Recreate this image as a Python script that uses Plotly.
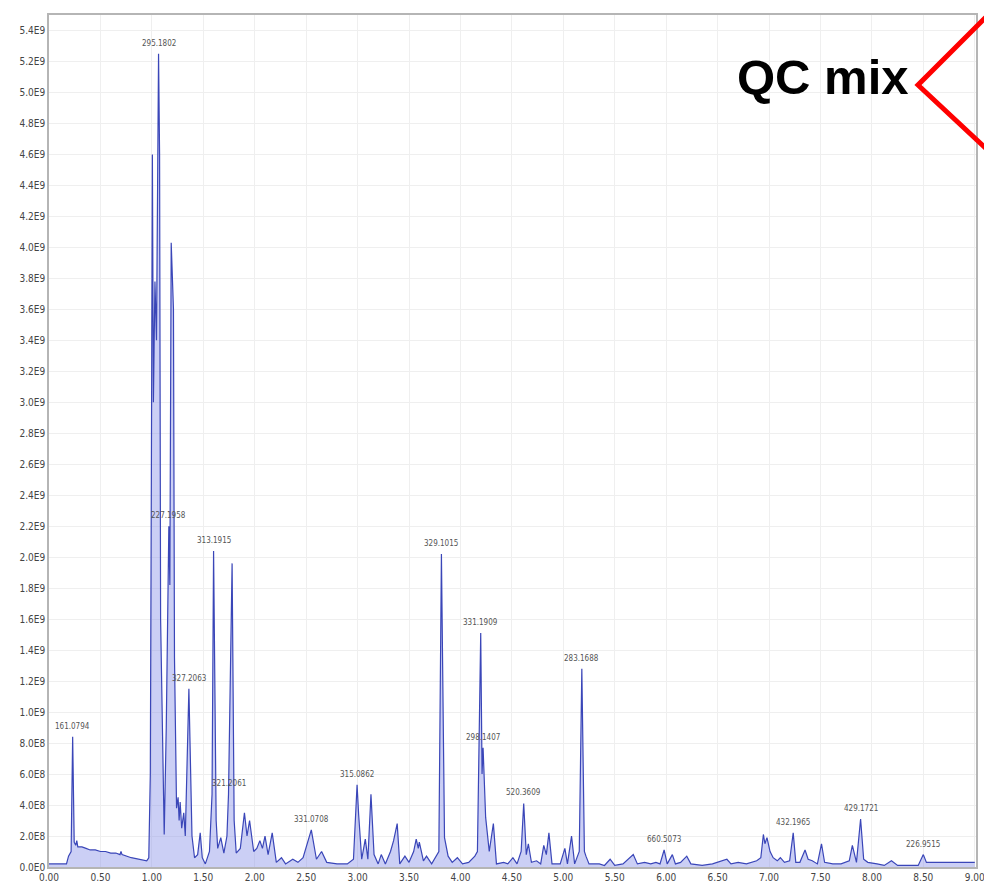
import plotly.graph_objects as go

# Retention time (min) and intensity (units of 1e9 counts)
rt = [0.00, 0.10, 0.17, 0.19, 0.215, 0.23, 0.245, 0.26, 0.27, 0.28, 0.32, 0.36, 0.40, 0.45, 0.50, 0.55,
      0.60, 0.65, 0.69, 0.70, 0.71, 0.80, 0.88, 0.95, 0.97, 0.985, 0.995, 1.005, 1.015, 1.03, 1.045,
      1.055, 1.065, 1.075, 1.085, 1.12, 1.14, 1.165, 1.175, 1.188, 1.20, 1.21, 1.22, 1.24, 1.255,
      1.265, 1.275, 1.29, 1.31, 1.325, 1.36, 1.39, 1.415, 1.445, 1.47, 1.49, 1.52, 1.56, 1.585,
      1.60, 1.625, 1.64, 1.67, 1.70, 1.73, 1.745, 1.78, 1.80, 1.82, 1.86, 1.90, 1.925, 1.95, 1.99,
      2.02, 2.05, 2.075, 2.10, 2.13, 2.17, 2.21, 2.26, 2.30, 2.37, 2.42, 2.47, 2.55, 2.60, 2.65,
      2.70, 2.80, 2.90, 2.96, 2.995, 3.01, 3.04, 3.075, 3.10, 3.13, 3.16, 3.20, 3.23, 3.27, 3.32,
      3.35, 3.385, 3.41, 3.46, 3.50, 3.545, 3.57, 3.59, 3.60, 3.64, 3.67, 3.72, 3.79, 3.815, 3.845,
      3.88, 3.92, 3.97, 4.02, 4.08, 4.14, 4.165, 4.197, 4.21, 4.22, 4.235, 4.245, 4.28, 4.32, 4.35,
      4.42, 4.46, 4.51, 4.55, 4.59, 4.615, 4.64, 4.66, 4.69, 4.74, 4.78, 4.81, 4.835, 4.86, 4.89,
      4.97, 5.015, 5.04, 5.08, 5.11, 5.155, 5.18, 5.205, 5.22, 5.25, 5.35, 5.40, 5.455, 5.50, 5.58,
      5.68, 5.72, 5.79, 5.85, 5.90, 5.94, 5.98, 6.01, 6.06, 6.09, 6.14, 6.20, 6.24, 6.35, 6.45,
      6.59, 6.63, 6.70, 6.78, 6.88, 6.92, 6.945, 6.96, 6.98, 7.01, 7.04, 7.08, 7.11, 7.15, 7.20,
      7.235, 7.26, 7.30, 7.35, 7.38, 7.42, 7.47, 7.51, 7.54, 7.62, 7.70, 7.78, 7.81, 7.85, 7.89,
      7.92, 7.96, 8.05, 8.12, 8.19, 8.25, 8.35, 8.45, 8.50, 8.53, 8.70, 9.00]
intensity_e9 = [0.02, 0.02, 0.02, 0.07, 0.10, 0.84, 0.16, 0.14, 0.17, 0.13, 0.13, 0.12, 0.11, 0.11, 0.10, 0.10,
                0.09, 0.09, 0.08, 0.10, 0.08, 0.06, 0.05, 0.04, 0.06, 0.60, 2.50, 4.60, 3.00, 3.78, 3.40,
                4.60, 5.25, 4.60, 1.60, 0.21, 0.90, 2.20, 1.82, 4.03, 3.80, 3.60, 1.35, 0.38, 0.45,
                0.30, 0.42, 0.25, 0.35, 0.20, 1.15, 0.20, 0.06, 0.08, 0.22, 0.06, 0.02, 0.10, 0.47,
                2.04, 0.30, 0.12, 0.19, 0.09, 0.20, 0.47, 1.96, 0.30, 0.09, 0.12, 0.35, 0.20, 0.30, 0.10,
                0.12, 0.17, 0.12, 0.20, 0.08, 0.22, 0.03, 0.06, 0.02, 0.05, 0.03, 0.06, 0.24, 0.05, 0.10,
                0.03, 0.02, 0.02, 0.05, 0.53, 0.34, 0.05, 0.18, 0.05, 0.47, 0.08, 0.02, 0.08, 0.02, 0.10,
                0.17, 0.28, 0.02, 0.07, 0.03, 0.10, 0.18, 0.12, 0.16, 0.04, 0.07, 0.02, 0.10, 2.02, 0.19,
                0.07, 0.03, 0.06, 0.02, 0.03, 0.07, 0.10, 1.51, 0.60, 0.77, 0.49, 0.32, 0.10, 0.28, 0.02,
                0.03, 0.02, 0.06, 0.02, 0.10, 0.41, 0.08, 0.15, 0.03, 0.04, 0.02, 0.14, 0.08, 0.22, 0.02,
                0.02, 0.12, 0.02, 0.20, 0.02, 0.10, 1.28, 0.10, 0.07, 0.02, 0.02, 0.01, 0.05, 0.01, 0.02,
                0.08, 0.02, 0.03, 0.02, 0.03, 0.02, 0.11, 0.02, 0.08, 0.02, 0.03, 0.07, 0.02, 0.01, 0.02,
                0.05, 0.02, 0.03, 0.02, 0.04, 0.06, 0.21, 0.15, 0.19, 0.10, 0.06, 0.04, 0.06, 0.03, 0.04,
                0.22, 0.03, 0.03, 0.11, 0.05, 0.04, 0.02, 0.15, 0.03, 0.02, 0.02, 0.04, 0.14, 0.03, 0.31,
                0.05, 0.03, 0.02, 0.01, 0.04, 0.01, 0.01, 0.01, 0.08, 0.03, 0.03, 0.03]

# Labelled peaks
peak_rt = [0.23, 1.065, 1.165, 1.36, 1.60, 1.745, 2.55, 2.995, 3.815, 4.197, 4.22, 4.615, 5.18,
           5.98, 7.235, 7.89, 8.50]
peak_int_e9 = [0.84, 5.25, 2.20, 1.15, 2.04, 0.47, 0.24, 0.53, 2.02, 1.51, 0.77, 0.41, 1.28,
               0.11, 0.22, 0.31, 0.08]
peak_mz = ["161.0794", "295.1802", "227.1958", "327.2063", "313.1915", "321.2061", "331.0708",
           "315.0862", "329.1015", "331.1909", "298.1407", "520.3609", "283.1688", "660.5073",
           "432.1965", "429.1721", "226.9515"]

# Axis ticks
y_tick_vals_e9 = [0.0, 0.2, 0.4, 0.6, 0.8, 1.0, 1.2, 1.4, 1.6, 1.8, 2.0, 2.2, 2.4, 2.6, 2.8, 3.0,
                  3.2, 3.4, 3.6, 3.8, 4.0, 4.2, 4.4, 4.6, 4.8, 5.0, 5.2, 5.4]
y_tick_text = ["0.0E0", "2.0E8", "4.0E8", "6.0E8", "8.0E8", "1.0E9", "1.2E9", "1.4E9", "1.6E9",
               "1.8E9", "2.0E9", "2.2E9", "2.4E9", "2.6E9", "2.8E9", "3.0E9", "3.2E9", "3.4E9",
               "3.6E9", "3.8E9", "4.0E9", "4.2E9", "4.4E9", "4.6E9", "4.8E9", "5.0E9", "5.2E9", "5.4E9"]
x_tick_vals = [0.0, 0.5, 1.0, 1.5, 2.0, 2.5, 3.0, 3.5, 4.0, 4.5, 5.0, 5.5, 6.0, 6.5, 7.0, 7.5, 8.0, 8.5, 9.0]
x_tick_text = ["0.00", "0.50", "1.00", "1.50", "2.00", "2.50", "3.00", "3.50", "4.00", "4.50",
               "5.00", "5.50", "6.00", "6.50", "7.00", "7.50", "8.00", "8.50", "9.00"]

title_text = "QC mix"

SCALE = 1e9
intensity = [v * SCALE for v in intensity_e9]
peak_int = [v * SCALE for v in peak_int_e9]
y_tick_vals = [v * SCALE for v in y_tick_vals_e9]

NARROW = "Liberation Sans Narrow, DejaVu Sans Condensed, Arial Narrow, sans-serif"

fig = go.Figure()
fig.add_trace(go.Scatter(
    x=rt, y=intensity, mode="lines",
    line=dict(color="#3a46b8", width=1.2),
    fill="tozeroy", fillcolor="rgba(140,148,232,0.45)",
    hoverinfo="x+y", showlegend=False,
))

for x, y, t in zip(peak_rt, peak_int, peak_mz):
    fig.add_annotation(x=x, y=y, text=t, showarrow=False, xanchor="center", yanchor="bottom",
                       yshift=4, font=dict(family=NARROW, size=8, color="#555555"))

W, H = 984, 896
ML, MR, MT, MB = 49, 8, 15, 29
pw, ph = W - ML - MR, H - MT - MB


def px(xp):
    return (xp - ML) / pw


def py(yp):
    return (H - MB - yp) / ph


fig.add_annotation(xref="paper", yref="paper", x=px(911), y=py(77), text="<b>" + title_text + "</b>",
                   showarrow=False, xanchor="right", yanchor="middle",
                   font=dict(family="Liberation Sans, Arial, sans-serif", size=49, color="black"))

fig.add_shape(type="path", xref="paper", yref="paper",
              path=f"M {px(994)} {py(9)} L {px(918)} {py(85)} L {px(994)} {py(156)}",
              line=dict(color="#ff0000", width=5))

axis_common = dict(showline=True, linecolor="#b5b5b5", linewidth=1.5, mirror=True,
                   showgrid=True, gridcolor="#efefef", gridwidth=1, zeroline=False, automargin=False,
                   ticks="", ticklabeloverflow="allow",
                   tickfont=dict(family=NARROW, size=10, color="#444444"))

fig.update_xaxes(range=[0, 9.012], tickmode="array", tickvals=x_tick_vals, ticktext=x_tick_text, **axis_common)
fig.update_yaxes(range=[0, 5.5e9], tickmode="array", tickvals=y_tick_vals, ticktext=y_tick_text, **axis_common)

fig.update_layout(width=W, height=H, margin=dict(l=ML, r=MR, t=MT, b=MB),
                  paper_bgcolor="white", plot_bgcolor="white", showlegend=False)

fig.write_html("out.html")
